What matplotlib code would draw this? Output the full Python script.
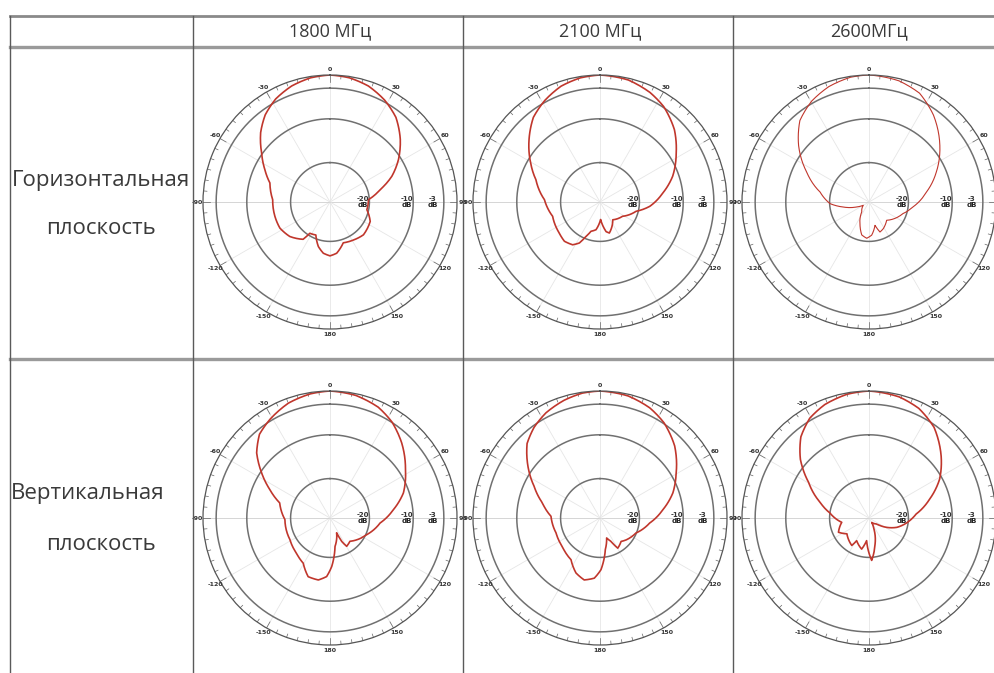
import numpy as np
import matplotlib.pyplot as plt
from matplotlib.lines import Line2D

plt.rcParams['font.family'] = ['Open Sans', 'DejaVu Sans']

freqs = ['1800 МГц', '2100 МГц', '2600МГц']
plane_h = ['Горизонтальная', 'плоскость']
plane_v = ['Вертикальная', 'плоскость']
ring_db = [-20, -10, -3]
ring_txt = ['-20', '-10', '-3']
ang_lbl = [0, 30, 60, 90, 120, 150, 180, -150, -120, -90, -60, -30]

# patterns: angle (deg, clockwise from top), level (dB)
h1800_ang = [0, 8.9, 18.3, 28.2, 37.9, 48.3, 58.2, 67.4, 76.1, 86.5, 101.8, 115.8, 134.4, 148.2, 162, 172.6, 180,
             -172.6, -165.3, -156.8, -147.2, -144.2, -130.6, -117.5, -104.6, -87.7, -72.4, -63.6, -54.4, -45,
             -36.6, -27.8, -18.3, -8.9]
h1800_db = [0, -0.3, -1.1, -2.6, -4.5, -7.5, -10.6, -13.7, -17.2, -20.2, -20.4, -18.8, -18.3, -18.8, -19.2, -17.2, -16.7,
            -17.2, -18.5, -20.8, -20.5, -18.5, -16.9, -16.1, -16.0, -15.9, -14.6, -12.4, -9.8, -6.6,
            -4.2, -2.4, -1.1, -0.3]

h2100_ang = [0, 13.1, 24.5, 33.7, 45.8, 57.2, 70.5, 81.8, 95, 104.5, 122.3, 144.4, 163.2, 168.4, 178,
             -171.8, -162.9, -157.8, -153.2, -147.4, -137.8, -127.3, -106.8, -87.6, -70.8, -60.5, -48.6, -38.2,
             -28.5, -18.6, -9]
h2100_db = [0, -0.4, -1.5, -2.8, -5.3, -8.3, -11.4, -14.5, -17.6, -20.5, -22.9, -24, -21.6, -22.1, -25,
            -22.6, -22, -20.5, -18.5, -17.4, -16.9, -17.3, -17.7, -16.3, -13.5, -10.8, -7.4, -4.4,
            -2.6, -1.1, -0.3]

h2600_ang = [0, 13.9, 24.9, 36.6, 51.4, 66.1, 80.2, 96.4, 108.8, 136, 151.7, 159.9, 165.6, 175.4,
             -176.4, -167.6, -158.9, -143.7, -120, -112, -101, -92.4, -78.5, -64.3, -51.3, -40.3, -29.6,
             -19.2, -8.4]
h2600_db = [0, -0.5, -1.6, -4.3, -8.3, -12.2, -15.7, -18.9, -20.8, -23.2, -22.1, -21.7, -23.5, -21.4,
            -20.7, -21.3, -23.3, -26.2, -27.5, -26, -23, -20.1, -17.6, -13.2, -8.4, -4.6, -2.5,
            -1.1, -0.2]

v1800_ang = [0, 12, 23.5, 32.8, 43.7, 57.2, 71.2, 82.5, 95.7, 114.4, 129, 139.4, 149.5, 153.4, 156, 170, 178,
             -176.7, -169.3, -159.6, -149.4, -136.4, -118.4, -92, -73.3, -64.7, -56.6, -48.4, -40.1, -31.1,
             -19.9, -9]
v1800_db = [0, -0.4, -1.4, -2.9, -5.3, -8.5, -11.3, -14.4, -17.5, -19.8, -21.1, -22, -21.5, -23, -25.3, -22.4, -17.9,
            -15.6, -14.6, -14.7, -17, -17.9, -18.6, -18.7, -17, -13.8, -10.3, -6.6, -4.0, -2.6,
            -1.1, -0.3]

v2100_ang = [0, 13, 24.3, 33.9, 46, 59.4, 71, 82.4, 95.8, 112.6, 129.8, 138, 149.5, 154.8, 161.6, 170.4, 178.9,
             -174.6, -165.7, -156.4, -145.2, -127.2, -108.8, -88, -75.3, -64.3, -52.8, -44.4, -36, -27.2, -17, -8]
v2100_db = [0, -0.4, -1.4, -2.8, -5.3, -8.8, -11.4, -14.5, -17.6, -20.1, -21.2, -21.8, -21, -23.1, -24.2, -21.7, -17.2,
            -15.2, -14.4, -15.3, -17.4, -18.2, -18.4, -17.8, -15.4, -12.3, -8.2, -5.2, -3.4, -2.0, -0.9, -0.2]

v2600_ang = [0, 14, 24.4, 35.6, 49.4, 61.2, 72.7, 85.2, 99.5, 108.6, 117.8, 128, 148, 155.6, 167.8, 176.4,
             -174, -166.7, -151.5, -147.9, -125.6, -115, -99, -82.7, -72.3, -59.5, -49.5, -40, -30.7, -21.3, -10]
v2600_db = [0, -0.5, -1.5, -3.5, -7.3, -10.6, -14.5, -18.2, -20.7, -22.3, -24.4, -26.8, -27.8, -26.3, -22.6, -19.3,
            -23.8, -21.7, -23.1, -21.6, -22.8, -21.3, -22.7, -20, -17.3, -13, -8.4, -4.8, -2.5, -1.2, -0.3]

patterns = [[(h1800_ang, h1800_db), (h2100_ang, h2100_db), (h2600_ang, h2600_db)],
            [(v1800_ang, v1800_db), (v2100_ang, v2100_db), (v2600_ang, v2600_db)]]

W, H = 994, 673
fig = plt.figure(figsize=(W / 100, H / 100), dpi=100)
fig.patch.set_facecolor('white')

RMIN = -29
col_x = [330, 600, 869]
row_y = [202, 518]
R = 127


def fx(x):
    return x / W


def fy(y):
    return 1 - y / H


def hline(y, x0, x1, c, lw):
    fig.add_artist(Line2D([fx(x0), fx(x1)], [fy(y), fy(y)], color=c, lw=lw))


def vline(x, y0, y1, c, lw):
    fig.add_artist(Line2D([fx(x), fx(x)], [fy(y0), fy(y1)], color=c, lw=lw))


# table grid
hline(16, 10, W, '#8a8a8a', 2.0)
hline(47, 10, W, '#9a9a9a', 2.4)
hline(359, 10, W, '#9a9a9a', 2.4)
for x in [10, 193, 463, 733]:
    vline(x, 16, H, '#5a5a5a', 1.0)

# headers
for x, t in zip(col_x, freqs):
    fig.text(fx(x), fy(31), t, ha='center', va='center', fontsize=13, color='#3a3a3a')

fig.text(fx(101), fy(181), plane_h[0], ha='center', va='center', fontsize=16, color='#3a3a3a')
fig.text(fx(101), fy(228), plane_h[1], ha='center', va='center', fontsize=16, color='#3a3a3a')
fig.text(fx(11), fy(493), plane_v[0], ha='left', va='center', fontsize=16, color='#3a3a3a')
fig.text(fx(101), fy(545), plane_v[1], ha='center', va='center', fontsize=16, color='#3a3a3a')

th = np.linspace(0, 2 * np.pi, 361)
for i, cy in enumerate(row_y):
    for j, cx in enumerate(col_x):
        ax = fig.add_axes([fx(cx - R), fy(cy + R), 2 * R / W, 2 * R / H], projection='polar')
        ax.set_theta_zero_location('N')
        ax.set_theta_direction(-1)
        ax.set_ylim(RMIN, 0)
        ax.set_xticks([])
        ax.set_yticks([])
        ax.grid(False)
        ax.patch.set_alpha(0)
        ax.spines['polar'].set_color('#555555')
        ax.spines['polar'].set_linewidth(0.9)

        # spokes
        for a in range(0, 360, 30):
            c = '#cfcfcf' if a in (90, 270) else '#e6e6e6'
            ax.plot([np.deg2rad(a)] * 2, [RMIN, 0], color=c, lw=0.6)
        # rings
        for d in ring_db:
            ax.plot(th, np.full_like(th, d), color='#707070', lw=1.1)
        # ticks on outer ring
        for a in range(0, 360, 5):
            ln = 1.6 if a % 30 == 0 else 0.8
            ax.plot([np.deg2rad(a)] * 2, [-ln, 0], color='#666666', lw=0.5)
        # angle labels
        for a in ang_lbl:
            ax.text(np.deg2rad(a), 1.3, str(a), fontsize=4.5, fontweight='bold', ha='center', va='center',
                    color='#333333', family='DejaVu Sans')
        # dB labels
        for rp, t in zip([-21.5, -11.4, -5.5], ring_txt):
            ax.text(np.pi / 2, rp, t + '\n', fontsize=5, fontweight='bold', ha='center', va='center',
                    color='#333333', family='DejaVu Sans', linespacing=1.1)
            ax.text(np.pi / 2, rp, '\ndB', fontsize=5, fontweight='bold', ha='center', va='center',
                    color='#222222', family='DejaVu Sans', linespacing=1.1)

        ang, db = patterns[i][j]
        # angles 0..360 in drawing order, closed at 360
        t_ = np.deg2rad(np.append(np.mod(np.array(ang), 360), 360))
        r_ = np.minimum(np.array(db + [db[0]]), 0)
        lw = 0.8 if (i, j) == (0, 2) else 1.2
        line, = ax.plot(t_, r_, color='#c0362c', lw=lw)
        # draw segments as polar curves, like the grid does
        line.get_path()._interpolation_steps = 12

fig.savefig('out.png', dpi=100)
